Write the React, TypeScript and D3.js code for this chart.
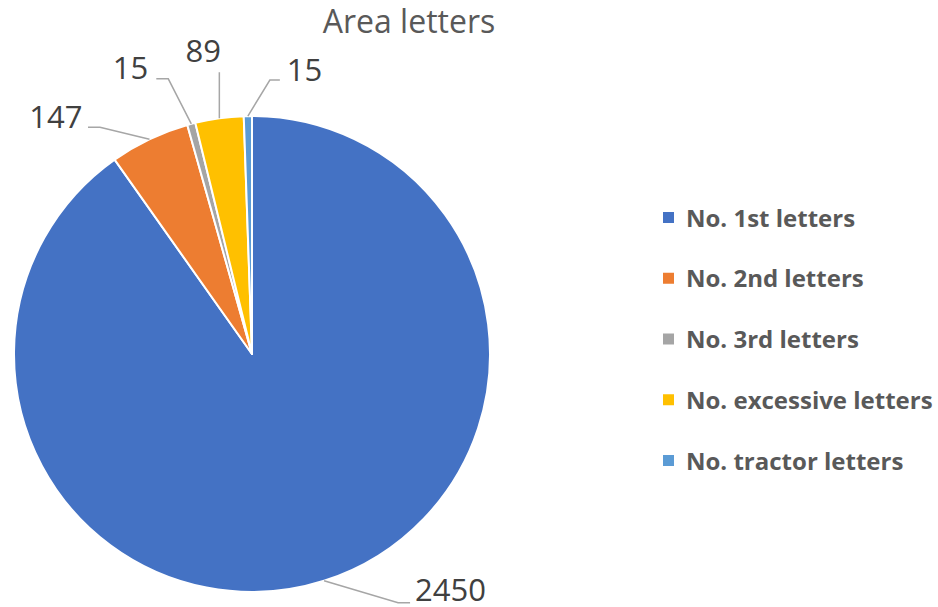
import { useMemo } from "react";
import * as d3 from "d3";

const categories = [
  "No. 1st letters",
  "No. 2nd letters",
  "No. 3rd letters",
  "No. excessive letters",
  "No. tractor letters",
];
const values = [2450, 147, 15, 89, 15];
const colors = ["#4472C4", "#ED7D31", "#A5A5A5", "#FFC000", "#5B9BD5"];

// leader line layout, relative to the slice's outer mid point
const leaderLayout = [
  { elbow: [74, 22], end: [86, 22], text: [91, 20], anchor: "start" },
  { elbow: [-49.5, -12], end: [-61.5, -12], text: [-67, -11], anchor: "end" },
  { elbow: [-23, -45], end: [-35, -45], text: [-43, -45], anchor: "end" },
  { elbow: [0, -46], end: [0, -46], text: [-16, -56], anchor: "middle" },
  { elbow: [22, -36], end: [32, -36], text: [39, -35], anchor: "start" },
];

const W = 938;
const H = 607;
const cx = 252;
const cy = 354;
const R = 238;
const FONT = "'Open Sans', 'Noto Sans', sans-serif";

export default function App() {
  const arcs = useMemo(
    () =>
      d3
        .pie<number>()
        .sort(null)
        .value((d) => d)(values),
    []
  );
  const arc = d3.arc<d3.PieArcDatum<number>>().innerRadius(0).outerRadius(R);
  const legendY = d3.scalePoint<string>().domain(categories).range([218, 461]);

  return (
    <svg
      width={W}
      height={H}
      style={{ position: "absolute", left: 0, top: 0, background: "#fff" }}
      fontFamily={FONT}
    >
      <text x={409} y={33} textAnchor="middle" fontSize={32} fill="#595959">
        Area letters
      </text>
      <g transform={`translate(${cx},${cy})`}>
        {arcs.map((a, i) => (
          <path key={i} d={arc(a) ?? ""} fill={colors[i]} stroke="#fff" strokeWidth={2} strokeLinejoin="round" />
        ))}
      </g>
      {arcs.map((a, i) => {
        const mid = (a.startAngle + a.endAngle) / 2;
        const ax = cx + R * Math.sin(mid);
        const ay = cy - R * Math.cos(mid);
        const l = leaderLayout[i];
        const pts: [number, number][] = [
          [ax, ay],
          [ax + l.elbow[0], ay + l.elbow[1]],
          [ax + l.end[0], ay + l.end[1]],
        ];
        return (
          <g key={i}>
            <path d={d3.line()(pts) ?? ""} fill="none" stroke="#A6A6A6" strokeWidth={1.5} />
            <text
              x={ax + l.text[0]}
              y={ay + l.text[1]}
              textAnchor={l.anchor}
              fontSize={31}
              fill="#404040"
            >
              {values[i]}
            </text>
          </g>
        );
      })}
      {categories.map((c, i) => {
        const y = legendY(c) ?? 0;
        return (
          <g key={c}>
            <rect x={663} y={y - 6} width={11} height={11} fill={colors[i]} />
            <text x={686} y={y} dy="0.36em" fontSize={24} fontWeight="bold" fill="#595959">
              {c}
            </text>
          </g>
        );
      })}
    </svg>
  );
}
